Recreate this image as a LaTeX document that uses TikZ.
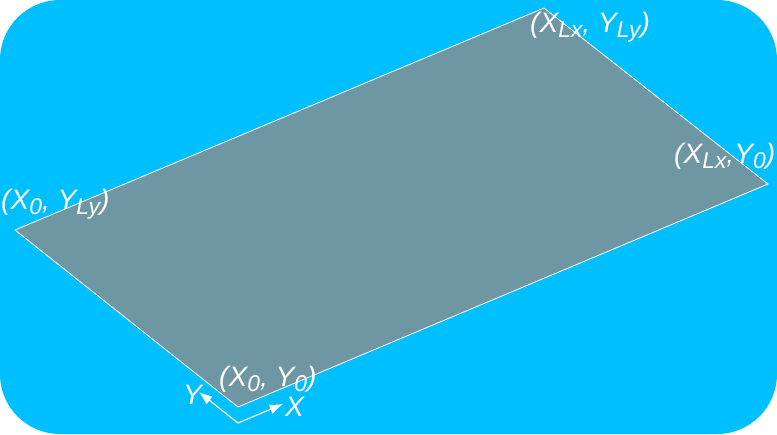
\documentclass[tikz,border=0pt]{standalone}
\usepackage{fontspec}
\setmainfont{Liberation Sans}
\usetikzlibrary{arrows.meta}
\definecolor{sky}{HTML}{00BFFF}
\definecolor{plate}{HTML}{6F97A3}
\newcommand{\lowsub}[1]{\raisebox{-5pt}{\fontsize{19.5}{20}\selectfont #1}}

\begin{document}
\begin{tikzpicture}[x=0.03cm, y=-0.03cm,
    every node/.style={font=\fontsize{24}{26}\selectfont\itshape,
                       text=white, inner sep=0pt, anchor=base west},
    rim/.style={draw=white, line width=0.7pt, fill=plate},
    axis/.style={draw=white, line width=1pt,
                 -{Latex[length=4mm, width=3mm]}}]
  % background
  \fill[sky, rounded corners=1.8cm] (0,0) rectangle (777,434);
  % plate corners
  \coordinate (c00) at (238,407);
  \coordinate (cx0) at (768,184);
  \coordinate (cxy) at (544,8);
  \coordinate (c0y) at (15,230);
  \path[rim] (c00) -- (cx0) -- (cxy) -- (c0y) -- cycle;
  % corner labels
  \node (l00) at (219,386) {(X\lowsub{0}, Y\lowsub{0})};
  \node (lxy) at (530,32)  {(X\lowsub{Lx}, Y\lowsub{Ly})};
  \node (lx0) at (674,163) {(X\lowsub{Lx},Y\lowsub{0})};
  \node (l0y) at (1,209)   {(X\lowsub{0}, Y\lowsub{Ly})};
  % axes
  \coordinate (org) at (238,423);
  \coordinate (xend) at (283,404);
  \coordinate (yend) at (199,392);
  \draw[axis] (org) -- (xend);
  \draw[axis] (org) -- (yend);
  \node (xlab) at (285,416) {X};
  \node (ylab) at (183,404) {Y};
\end{tikzpicture}
\end{document}
